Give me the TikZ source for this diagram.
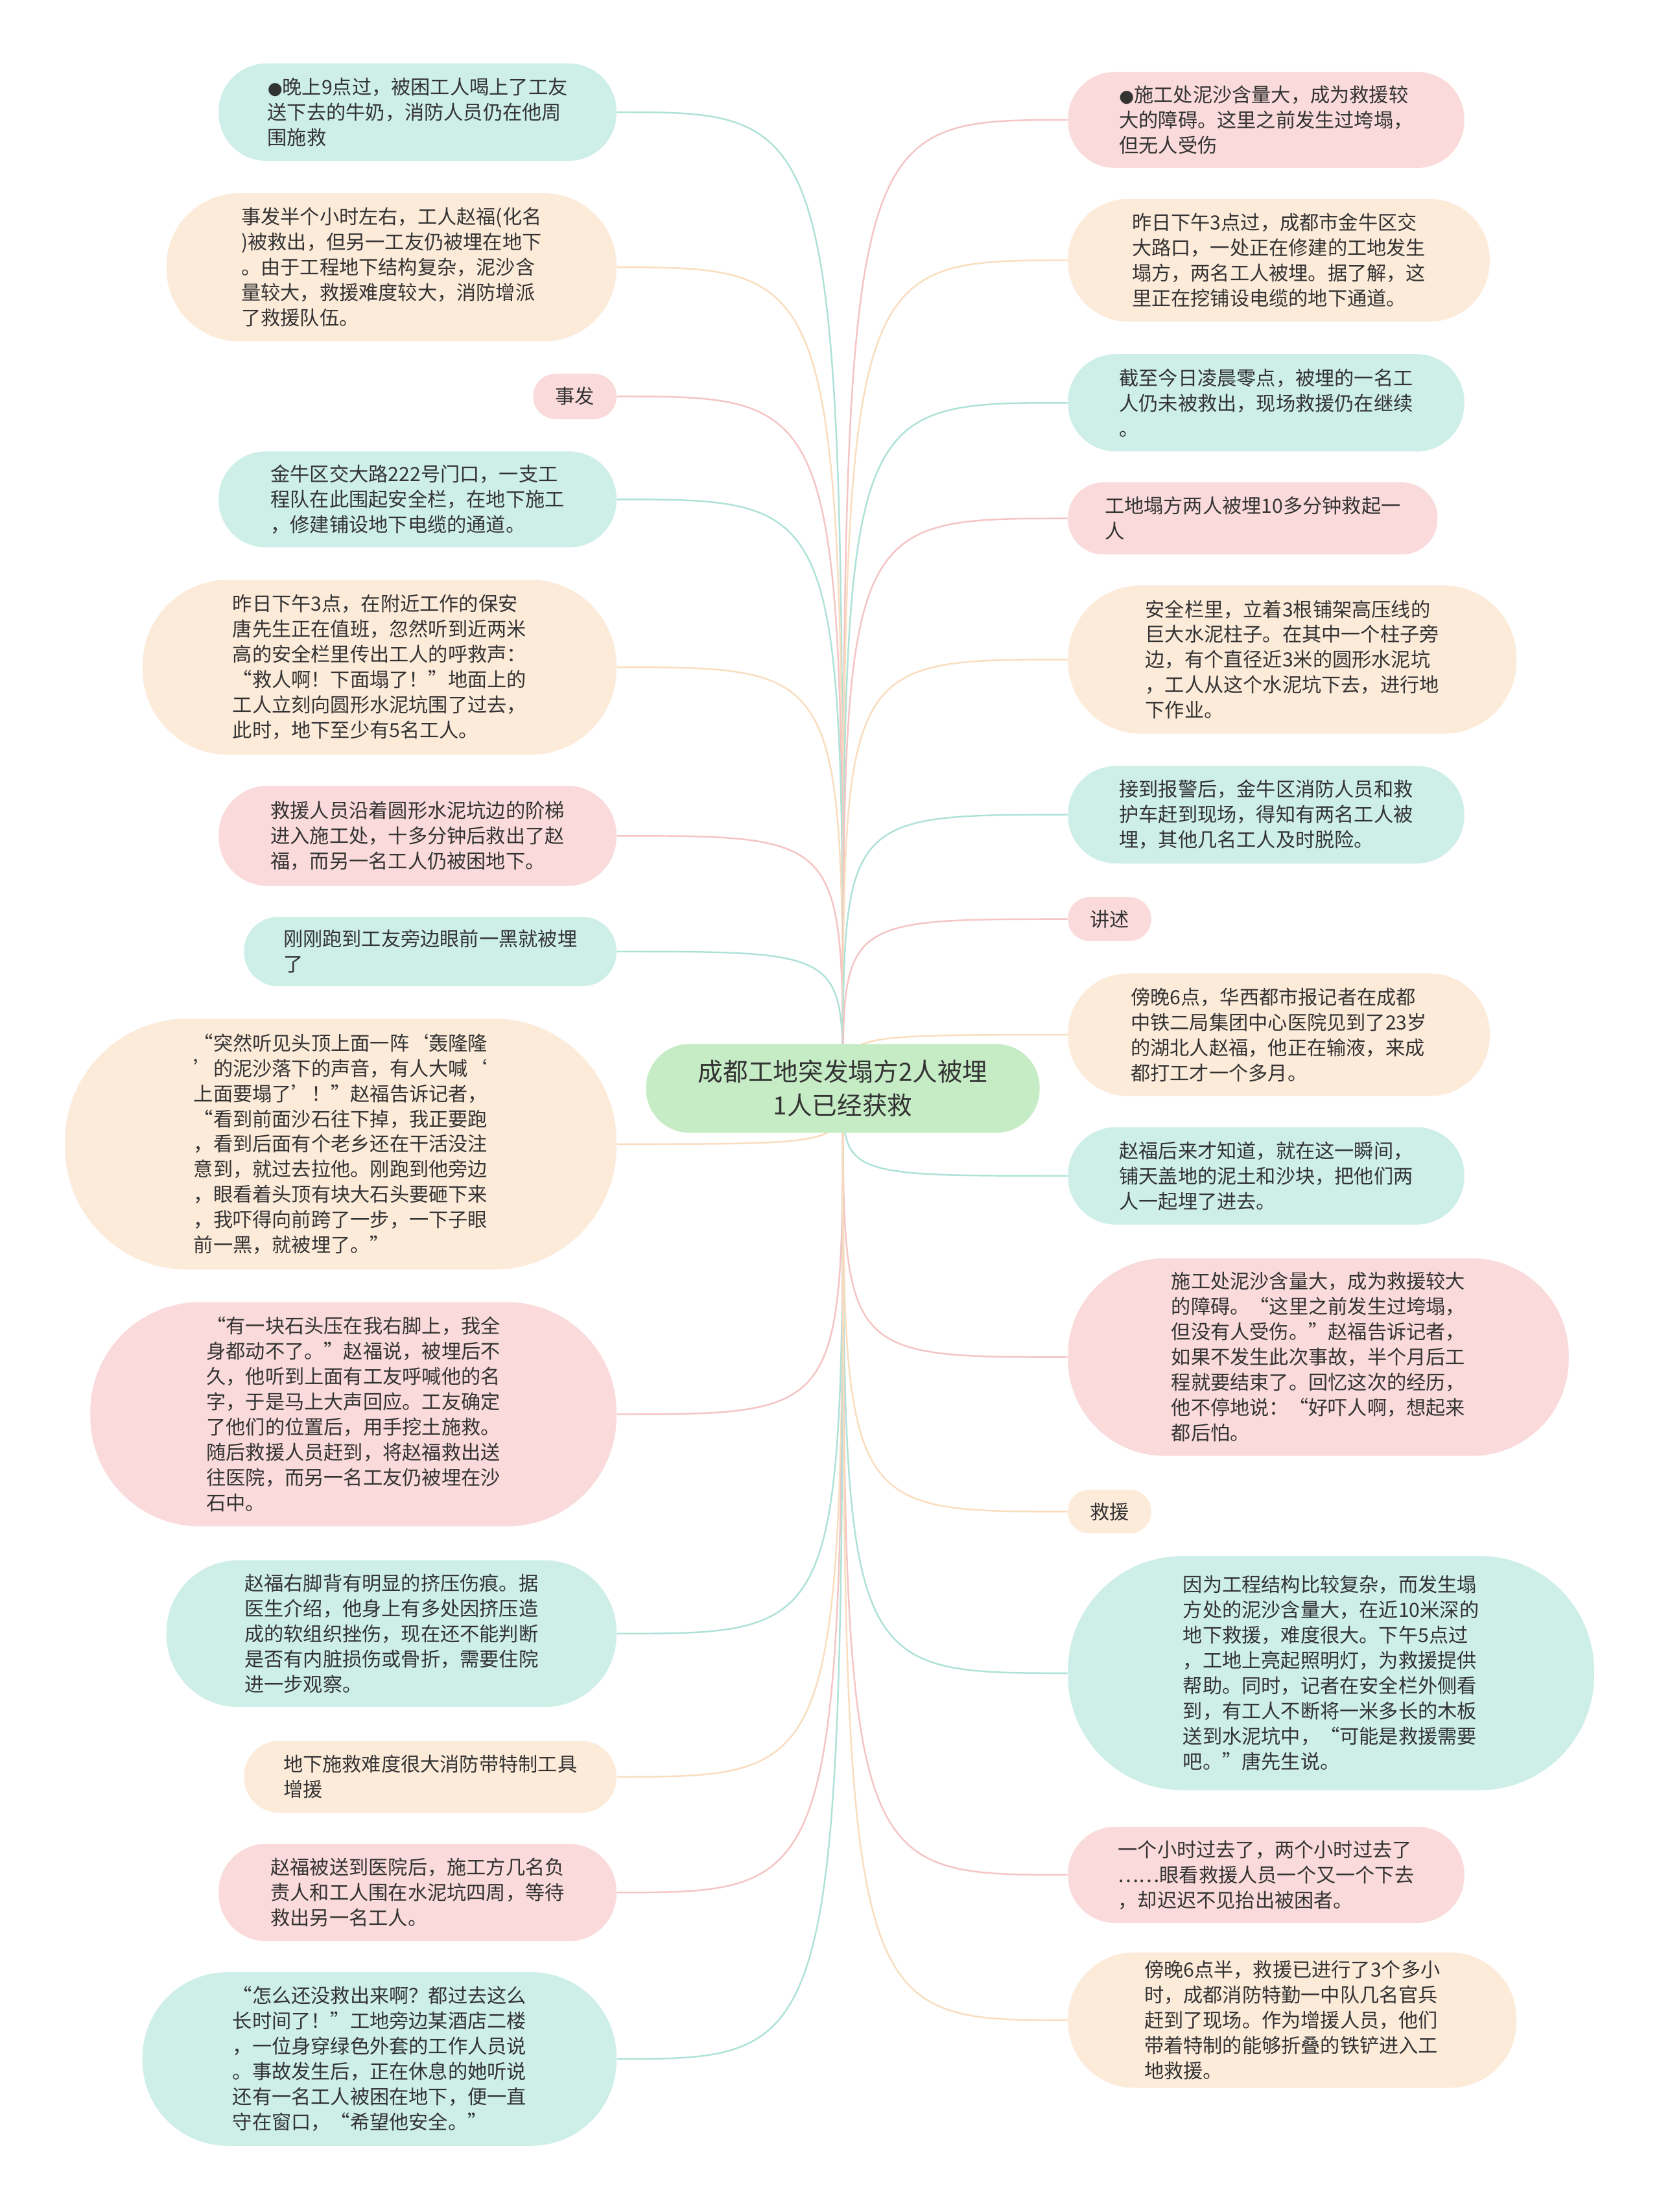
\documentclass[tikz,border=0pt]{standalone}
\usepackage{fontspec}
\setmainfont{Noto Sans CJK SC}
\newfontfamily\dotfont{DejaVu Sans}
\usetikzlibrary{backgrounds, calc}
\definecolor{mmTeal}{HTML}{CDEFE8}
\definecolor{mmPeach}{HTML}{FDEBDA}
\definecolor{mmPink}{HTML}{FADADA}
\definecolor{mmGreen}{HTML}{C6ECC6}
\definecolor{mmTealLine}{HTML}{AEE2D8}
\definecolor{mmPeachLine}{HTML}{FADDBF}
\definecolor{mmPinkLine}{HTML}{F5C4C4}
\definecolor{mmText}{HTML}{333333}
\newcommand{\mmu}{0.0217687cm}
\newcommand{\mmdot}{{\dotfont\fontsize{7.5}{7.5}\selectfont ●}}
\tikzset{
  leaf/.style      = {inner sep=0pt, align=left, text=mmText,
                      font=\fontsize{8.6}{11.1}\selectfont},
  pill/.style 2 args = {minimum width=#1*\mmu, minimum height=#2*\mmu,
                      rounded corners=0.49*#2*\mmu},
  tealbox/.style   = {fill=mmTeal},
  peachbox/.style  = {fill=mmPeach},
  pinkbox/.style   = {fill=mmPink},
  rootbox/.style   = {fill=mmGreen, inner sep=0pt, align=center, text=mmText,
                      font=\fontsize{11}{14.8}\selectfont},
  tealline/.style  = {mmTealLine, line width=0.7pt},
  peachline/.style = {mmPeachLine, line width=0.7pt},
  pinkline/.style  = {mmPinkLine, line width=0.7pt},
}

\begin{document}
\begin{tikzpicture}[x=0.0217687cm, y=-0.0217687cm]
  \useasboundingbox (0,0) rectangle (1176,1568);

  % centre topic
  \node[rootbox, pill={279}{63}] (root) at (597.5,771.5) {成都工地突发塌方2人被埋\\1人已经获救};
  \coordinate (hub) at (597.5,771.5);

  % left branch
  \node[leaf, tealbox, pill={282}{69}] (l1) at (296,79.5)
    {\mmdot 晚上9点过，被困工人喝上了工友\\送下去的牛奶，消防人员仍在他周\\围施救};
  \node[leaf, peachbox, pill={319}{105}] (l2) at (277.5,189.5)
    {事发半个小时左右，工人赵福(化名\\)被救出，但另一工友仍被埋在地下\\。由于工程地下结构复杂，泥沙含\\量较大，救援难度较大，消防增派\\了救援队伍。};
  \node[leaf, pinkbox, pill={59}{32}] (l3) at (407.5,281) {事发};
  \node[leaf, tealbox, pill={282}{68}] (l4) at (296,354)
    {金牛区交大路222号门口，一支工\\程队在此围起安全栏，在地下施工\\，修建铺设地下电缆的通道。};
  \node[leaf, peachbox, pill={336}{124}] (l5) at (269,473)
    {昨日下午3点，在附近工作的保安\\唐先生正在值班，忽然听到近两米\\高的安全栏里传出工人的呼救声：\\“救人啊！下面塌了！”地面上的\\工人立刻向圆形水泥坑围了过去，\\此时，地下至少有5名工人。};
  \node[leaf, pinkbox, pill={282}{71}] (l6) at (296,592.5)
    {救援人员沿着圆形水泥坑边的阶梯\\进入施工处，十多分钟后救出了赵\\福，而另一名工人仍被困地下。};
  \node[leaf, tealbox, pill={264}{49}] (l7) at (305,674.5)
    {刚刚跑到工友旁边眼前一黑就被埋\\了};
  \node[leaf, peachbox, pill={391}{178}] (l8) at (241.5,811)
    {“突然听见头顶上面一阵‘轰隆隆\\’的泥沙落下的声音，有人大喊‘\\上面要塌了’！”赵福告诉记者，\\“看到前面沙石往下掉，我正要跑\\，看到后面有个老乡还在干活没注\\意到，就过去拉他。刚跑到他旁边\\，眼看着头顶有块大石头要砸下来\\，我吓得向前跨了一步，一下子眼\\前一黑，就被埋了。”};
  \node[leaf, pinkbox, pill={373}{159}] (l9) at (250.5,1002.5)
    {“有一块石头压在我右脚上，我全\\身都动不了。”赵福说，被埋后不\\久，他听到上面有工友呼喊他的名\\字，于是马上大声回应。工友确定\\了他们的位置后，用手挖土施救。\\随后救援人员赶到，将赵福救出送\\往医院，而另一名工友仍被埋在沙\\石中。};
  \node[leaf, tealbox, pill={319}{104}] (l10) at (277.5,1158)
    {赵福右脚背有明显的挤压伤痕。据\\医生介绍，他身上有多处因挤压造\\成的软组织挫伤，现在还不能判断\\是否有内脏损伤或骨折，需要住院\\进一步观察。};
  \node[leaf, peachbox, pill={264}{51}] (l11) at (305,1259.5)
    {地下施救难度很大消防带特制工具\\增援};
  \node[leaf, pinkbox, pill={282}{69}] (l12) at (296,1341.5)
    {赵福被送到医院后，施工方几名负\\责人和工人围在水泥坑四周，等待\\救出另一名工人。};
  \node[leaf, tealbox, pill={336}{123}] (l13) at (269,1459.5)
    {“怎么还没救出来啊？都过去这么\\长时间了！”工地旁边某酒店二楼\\，一位身穿绿色外套的工作人员说\\。事故发生后，正在休息的她听说\\还有一名工人被困在地下，便一直\\守在窗口，“希望他安全。”};

  % right branch
  \node[leaf, pinkbox, pill={281}{68}] (r1) at (897.5,85)
    {\mmdot 施工处泥沙含量大，成为救援较\\大的障碍。这里之前发生过垮塌，\\但无人受伤};
  \node[leaf, peachbox, pill={299}{87}] (r2) at (906.5,184.5)
    {昨日下午3点过，成都市金牛区交\\大路口，一处正在修建的工地发生\\塌方，两名工人被埋。据了解，这\\里正在挖铺设电缆的地下通道。};
  \node[leaf, tealbox, pill={281}{69}] (r3) at (897.5,285.5)
    {截至今日凌晨零点，被埋的一名工\\人仍未被救出，现场救援仍在继续\\。};
  \node[leaf, pinkbox, pill={262}{51}] (r4) at (888,367.5)
    {工地塌方两人被埋10多分钟救起一\\人};
  \node[leaf, peachbox, pill={318}{105}] (r5) at (916,467.5)
    {安全栏里，立着3根铺架高压线的\\巨大水泥柱子。在其中一个柱子旁\\边，有个直径近3米的圆形水泥坑\\，工人从这个水泥坑下去，进行地\\下作业。};
  \node[leaf, tealbox, pill={281}{69}] (r6) at (897.5,577.5)
    {接到报警后，金牛区消防人员和救\\护车赶到现场，得知有两名工人被\\埋，其他几名工人及时脱险。};
  \node[leaf, pinkbox, pill={59}{31}] (r7) at (786.5,651.5) {讲述};
  \node[leaf, peachbox, pill={299}{87}] (r8) at (906.5,733.5)
    {傍晚6点，华西都市报记者在成都\\中铁二局集团中心医院见到了23岁\\的湖北人赵福，他正在输液，来成\\都打工才一个多月。};
  \node[leaf, tealbox, pill={281}{69}] (r9) at (897.5,833.5)
    {赵福后来才知道，就在这一瞬间，\\铺天盖地的泥土和沙块，把他们两\\人一起埋了进去。};
  \node[leaf, pinkbox, pill={355}{140}] (r10) at (934.5,962)
    {施工处泥沙含量大，成为救援较大\\的障碍。“这里之前发生过垮塌，\\但没有人受伤。”赵福告诉记者，\\如果不发生此次事故，半个月后工\\程就要结束了。回忆这次的经历，\\他不停地说：“好吓人啊，想起来\\都后怕。};
  \node[leaf, peachbox, pill={59}{31}] (r11) at (786.5,1071.5) {救援};
  \node[leaf, tealbox, pill={373}{166}] (r12) at (943.5,1186)
    {因为工程结构比较复杂，而发生塌\\方处的泥沙含量大，在近10米深的\\地下救援，难度很大。下午5点过\\，工地上亮起照明灯，为救援提供\\帮助。同时，记者在安全栏外侧看\\到，有工人不断将一米多长的木板\\送到水泥坑中，“可能是救援需要\\吧。”唐先生说。};
  \node[leaf, pinkbox, pill={281}{68}] (r13) at (897.5,1329)
    {一个小时过去了，两个小时过去了\\……眼看救援人员一个又一个下去\\，却迟迟不见抬出被困者。};
  \node[leaf, peachbox, pill={318}{96}] (r14) at (916,1432)
    {傍晚6点半，救援已进行了3个多小\\时，成都消防特勤一中队几名官兵\\赶到了现场。作为增援人员，他们\\带着特制的能够折叠的铁铲进入工\\地救援。};

  % connectors behind the boxes
  \begin{scope}[on background layer]
    \fill[white] (0,0) rectangle (1176,1568);
    \draw[tealline]  (hub) .. controls (hub |- l1.east) .. (l1.east);
    \draw[peachline] (hub) .. controls (hub |- l2.east) .. (l2.east);
    \draw[pinkline]  (hub) .. controls (hub |- l3.east) .. (l3.east);
    \draw[tealline]  (hub) .. controls (hub |- l4.east) .. (l4.east);
    \draw[peachline] (hub) .. controls (hub |- l5.east) .. (l5.east);
    \draw[pinkline]  (hub) .. controls (hub |- l6.east) .. (l6.east);
    \draw[tealline]  (hub) .. controls (hub |- l7.east) .. (l7.east);
    \draw[peachline] (hub) .. controls (hub |- l8.east) .. (l8.east);
    \draw[pinkline]  (hub) .. controls (hub |- l9.east) .. (l9.east);
    \draw[tealline]  (hub) .. controls (hub |- l10.east) .. (l10.east);
    \draw[peachline] (hub) .. controls (hub |- l11.east) .. (l11.east);
    \draw[pinkline]  (hub) .. controls (hub |- l12.east) .. (l12.east);
    \draw[tealline]  (hub) .. controls (hub |- l13.east) .. (l13.east);
    \draw[pinkline]  (hub) .. controls (hub |- r1.west) .. (r1.west);
    \draw[peachline] (hub) .. controls (hub |- r2.west) .. (r2.west);
    \draw[tealline]  (hub) .. controls (hub |- r3.west) .. (r3.west);
    \draw[pinkline]  (hub) .. controls (hub |- r4.west) .. (r4.west);
    \draw[peachline] (hub) .. controls (hub |- r5.west) .. (r5.west);
    \draw[tealline]  (hub) .. controls (hub |- r6.west) .. (r6.west);
    \draw[pinkline]  (hub) .. controls (hub |- r7.west) .. (r7.west);
    \draw[peachline] (hub) .. controls (hub |- r8.west) .. (r8.west);
    \draw[tealline]  (hub) .. controls (hub |- r9.west) .. (r9.west);
    \draw[pinkline]  (hub) .. controls (hub |- r10.west) .. (r10.west);
    \draw[peachline] (hub) .. controls (hub |- r11.west) .. (r11.west);
    \draw[tealline]  (hub) .. controls (hub |- r12.west) .. (r12.west);
    \draw[pinkline]  (hub) .. controls (hub |- r13.west) .. (r13.west);
    \draw[peachline] (hub) .. controls (hub |- r14.west) .. (r14.west);
  \end{scope}
\end{tikzpicture}
\end{document}
